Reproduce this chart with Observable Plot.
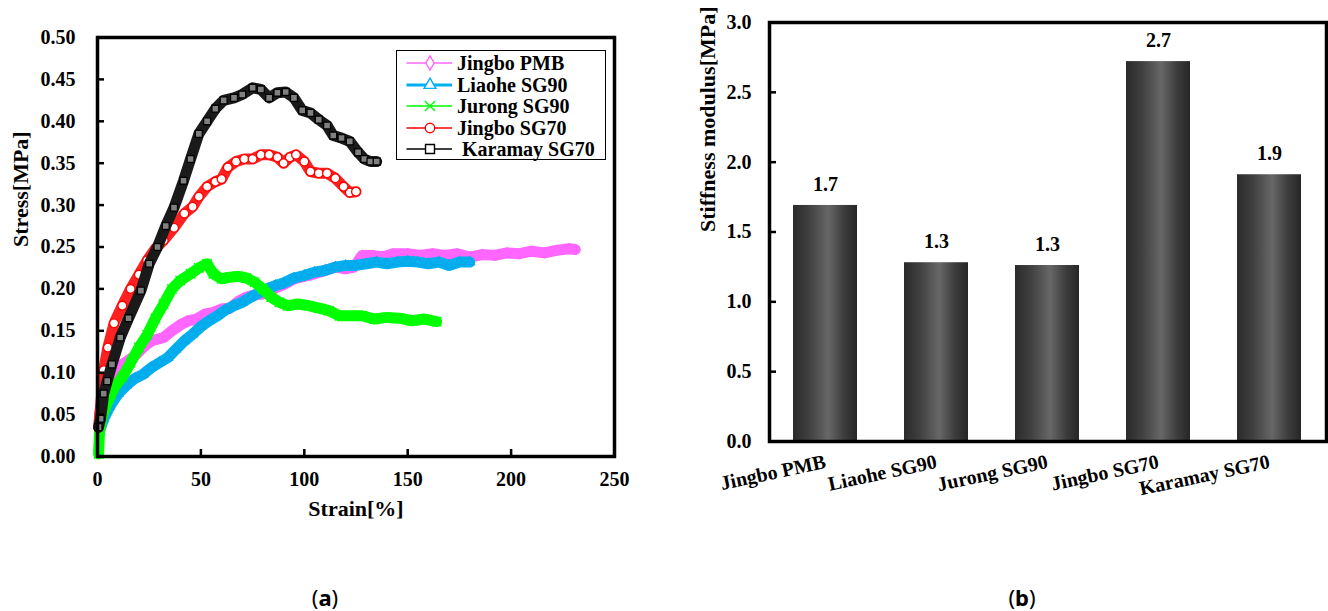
<!DOCTYPE html>
<html>
<head>
<meta charset="utf-8">
<script src="https://cdn.jsdelivr.net/npm/d3@7"></script>
<script src="https://cdn.jsdelivr.net/npm/@observablehq/plot@0.6"></script>
<style>
  html, body { margin: 0; padding: 0; background: #fff; }
  #wrap { position: relative; width: 1328px; height: 611px; background: #fff; overflow: hidden; }
  #chartA { position: absolute; left: 0; top: 0; }
  #chartB { position: absolute; left: 660px; top: 0; }
  #legend { position: absolute; left: 396px; top: 50px; width: 210px; height: 110px; box-sizing: border-box;
            border: 1.5px solid #000; background: #fff; }
  .lrow { position: absolute; left: 0; height: 22px; width: 100%; }
  .lrow svg { position: absolute; left: 0; top: 0; }
  .lrow span { position: absolute; left: 60px; top: 0; line-height: 22px; white-space: pre;
               font-family: "Liberation Serif", "Times New Roman", serif; font-weight: bold; font-size: 20px; color: #000; }
  .cap { position: absolute; top: 585px; transform: translateX(-50%); font-family: "Noto Sans", sans-serif;
         font-size: 22px; line-height: 24px; color: #000; }
  svg text { font-family: "Liberation Serif", "Times New Roman", serif; }
</style>
</head>
<body>
<div id="wrap">
  <div id="chartA"></div>
  <div id="chartB"></div>
  <div id="legend"></div>
  <div class="cap" style="left:325px">(<b>a</b>)</div>
  <div class="cap" style="left:1022px">(<b>b</b>)</div>
</div>
<script>
const FONT = '"Liberation Serif", "Times New Roman", serif';

// ---------- Panel (a): stress–strain curves ----------
const seriesNames = ["Jingbo PMB", "Liaohe SG90", "Jurong SG90", "Jingbo SG70", "Karamay SG70"];
const seriesColors = ["#ff66ff", "#00b0f0", "#00ff00", "#ff0000", "#000000"];

const pmbStrain = [1,3,6,10,14,18,22,26,32,36,40,44,48,52,56,60,64,68,72,76,80,85,90,95,100,105,110,115,120,124,128,133,138,143,150,156,162,168,174,180,186,192,198,204,210,216,222,228,231];
const pmbStress = [0.05,0.075,0.093,0.107,0.113,0.12,0.13,0.138,0.142,0.15,0.157,0.162,0.164,0.17,0.172,0.176,0.177,0.185,0.19,0.193,0.194,0.2,0.205,0.212,0.215,0.218,0.222,0.226,0.224,0.226,0.24,0.24,0.238,0.242,0.242,0.24,0.242,0.24,0.242,0.238,0.241,0.24,0.243,0.242,0.245,0.243,0.246,0.248,0.247];

const liaoheStrain = [1,3,6,10,14,18,22,26,30,34,38,42,46,50,54,58,62,66,70,74,78,82,86,90,95,100,105,110,115,120,125,130,135,140,145,150,155,160,165,170,175,180];
const liaoheStress = [0.03,0.045,0.06,0.075,0.085,0.093,0.098,0.106,0.112,0.118,0.128,0.138,0.146,0.155,0.162,0.168,0.175,0.18,0.184,0.19,0.195,0.2,0.204,0.207,0.213,0.216,0.22,0.222,0.226,0.228,0.228,0.23,0.232,0.23,0.232,0.233,0.232,0.23,0.232,0.228,0.232,0.232];

const jurongStrain = [0.5,1,2,4,8,12,16,20,24,28,32,36,40,45,49,53,56,60,64,68,72,76,80,84,88,92,97,102,107,112,117,122,128,134,140,146,152,158,164];
const jurongStress = [0.003,0.03,0.045,0.06,0.082,0.095,0.112,0.13,0.145,0.165,0.182,0.2,0.21,0.218,0.225,0.23,0.218,0.212,0.214,0.215,0.213,0.208,0.2,0.19,0.184,0.18,0.182,0.18,0.177,0.174,0.168,0.168,0.168,0.164,0.166,0.165,0.162,0.164,0.161];

const jingboStrain = [0.5,1.5,3,5,8,12,16,20,24,28,32,37,42,46,49,53,57,60,63,67,71,75,79,83,87,90,93,96,100,103,107,111,115,119,122,125];
const jingboStress = [0.035,0.06,0.103,0.13,0.159,0.18,0.2,0.217,0.234,0.248,0.258,0.273,0.29,0.298,0.31,0.322,0.328,0.331,0.345,0.352,0.355,0.355,0.36,0.36,0.357,0.35,0.357,0.36,0.352,0.34,0.338,0.338,0.332,0.322,0.315,0.316];

const karamayStrain = [0.5,1.5,3,4.7,7,11,15,21,25,29,33,37,41.6,45,49,53,57,61,66,70,75,79,83,87,91,95,99,103,107,111,114,118,122,126,129,132,135];
const karamayStress = [0.035,0.045,0.075,0.09,0.11,0.142,0.165,0.198,0.23,0.25,0.275,0.297,0.329,0.355,0.385,0.4,0.415,0.425,0.428,0.432,0.44,0.438,0.428,0.434,0.435,0.428,0.413,0.41,0.402,0.395,0.383,0.38,0.376,0.363,0.355,0.352,0.352];

const xTicksA = [0, 50, 100, 150, 200, 250];
const yTicksA = [0, 0.05, 0.1, 0.15, 0.2, 0.25, 0.3, 0.35, 0.4, 0.45, 0.5];

const strains = [pmbStrain, liaoheStrain, jurongStrain, jingboStrain, karamayStrain];
const stresses = [pmbStress, liaoheStress, jurongStress, jingboStress, karamayStress];
const symbols = ["diamond2", "triangle2", "times", "circle", "square2"];
const bandColor = ["#ff66ff", "#00b0f0", "#00ff00", "#ff2020", "#1a1a1a"];
const dotFill = ["#ff66ff", "#00b0f0", "#00ff00", "#ffffff", "#808080"];
const dotStroke = ["#ff66ff", "#0aa6e6", "#00ff00", "#ff0000", "#000000"];

const curveMarks = [];
seriesNames.forEach((name, i) => {
  const rows = strains[i].map((s, j) => ({strain: s, stress: stresses[i][j]}));
  curveMarks.push(Plot.line(rows, {x: "strain", y: "stress", stroke: bandColor[i], strokeWidth: 11,
    strokeLinejoin: "round", strokeLinecap: "round"}));
  curveMarks.push(Plot.dot(rows, {x: "strain", y: "stress", symbol: () => symbols[i], r: 4.4,
    fill: dotFill[i], stroke: dotStroke[i], strokeWidth: 1.3}));
});

const chartA = Plot.plot({
  width: 640, height: 540,
  marginLeft: 97, marginRight: 26, marginTop: 37, marginBottom: 84,
  x: {domain: [0, 250]},
  y: {domain: [0, 0.5]},
  style: {fontFamily: FONT, fontWeight: "bold", fontSize: "20px", color: "#000", background: "transparent", overflow: "visible"},
  marks: [
    ...curveMarks,
    Plot.frame({stroke: "#000", strokeWidth: 3.5}),
    Plot.axisX({ticks: xTicksA, tickSize: -7, strokeWidth: 2.5, tickFormat: () => "", label: null}),
    Plot.axisX({ticks: xTicksA, tickSize: 0, tickPadding: 15, tickFormat: d => String(d), label: null, fontFamily: FONT}),
    Plot.axisY({ticks: yTicksA, tickSize: -7, strokeWidth: 2.5, tickFormat: () => "", label: null}),
    Plot.axisY({ticks: yTicksA, tickSize: 0, tickPadding: 22, tickFormat: d => d.toFixed(2), label: null, fontFamily: FONT}),
    Plot.text(["Strain[%]"], {frameAnchor: "bottom", dy: 59, fontSize: 22, fontWeight: "bold", fontFamily: FONT}),
    Plot.text(["Stress[MPa]"], {frameAnchor: "left", dx: -77, rotate: -90, fontSize: 22, fontWeight: "bold", fontFamily: FONT})
  ]
});
document.getElementById("chartA").appendChild(chartA);

// Legend
const legend = document.getElementById("legend");
const legendSym = [d3.symbolDiamond, d3.symbolTriangle, d3.symbolX, d3.symbolCircle, d3.symbolSquare];
const legendSize = [60, 60, 70, 70, 80];
const legendLineW = [1.5, 3, 1.5, 1.5, 1.5];
seriesNames.forEach((name, i) => {
  const row = document.createElement("div");
  row.className = "lrow";
  row.style.top = (1 + i * 21.6) + "px";
  const s = d3.create("svg").attr("width", 58).attr("height", 22);
  s.append("line").attr("x1", 9.5).attr("x2", 55).attr("y1", 11).attr("y2", 11)
    .attr("stroke", seriesColors[i]).attr("stroke-width", legendLineW[i]);
  s.append("path").attr("d", d3.symbol(legendSym[i], legendSize[i])())
    .attr("transform", "translate(33,11)")
    .attr("fill", i === 2 ? "none" : "#fff").attr("stroke", seriesColors[i]).attr("stroke-width", 1.4);
  row.appendChild(s.node());
  const t = document.createElement("span");
  t.textContent = (i === 4 ? " " : "") + name;
  row.appendChild(t);
  legend.appendChild(row);
});

// ---------- Panel (b): stiffness modulus bars ----------
const asphalts = ["Jingbo PMB", "Liaohe SG90", "Jurong SG90", "Jingbo SG70", "Karamay SG70"];
const stiffness = [1.69, 1.28, 1.26, 2.72, 1.91];
const yTicksB = [0, 0.5, 1.0, 1.5, 2.0, 2.5, 3.0];
const bars = asphalts.map((a, i) => ({name: a, value: stiffness[i]}));

const chartB = Plot.plot({
  width: 668, height: 540,
  marginLeft: 109, marginRight: 2, marginTop: 22, marginBottom: 99,
  x: {domain: asphalts, type: "band", paddingInner: 0.42, paddingOuter: 0.21},
  y: {domain: [0, 3]},
  style: {fontFamily: FONT, fontWeight: "bold", fontSize: "20px", color: "#000", background: "transparent", overflow: "visible"},
  marks: [
    Plot.barY(bars, {x: "name", y: "value", fill: "url(#barGrad)"}),
    Plot.text(bars, {x: "name", y: "value", text: d => d.value.toFixed(1), dy: -21, fontSize: 20, fontWeight: "bold", fontFamily: FONT}),
    Plot.frame({stroke: "#000", strokeWidth: 3.5}),
    Plot.axisY({ticks: yTicksB, tickSize: -7, strokeWidth: 2.5, tickFormat: () => "", label: null}),
    Plot.axisY({ticks: yTicksB, tickSize: 0, tickPadding: 18, tickFormat: d => d.toFixed(1), label: null, fontFamily: FONT}),
    Plot.axisX({tickSize: 0, tickPadding: 20, tickRotate: -12, label: null, fontFamily: FONT}),
    Plot.text(["Stiffness modulus[MPa]"], {frameAnchor: "left", dx: -62, rotate: -90, fontSize: 22, fontWeight: "bold", fontFamily: FONT})
  ]
});
const svgB = d3.select(chartB.tagName.toLowerCase() === "svg" ? chartB : chartB.querySelector("svg"));
const defs = svgB.insert("defs", ":first-child");
const grad = defs.append("linearGradient").attr("id", "barGrad").attr("x1", 0).attr("x2", 1).attr("y1", 0).attr("y2", 0);
[[0, "#2a2a2a"], [0.25, "#404040"], [0.55, "#676767"], [0.8, "#3c3c3c"], [1, "#262626"]].forEach(([o, c]) =>
  grad.append("stop").attr("offset", o).attr("stop-color", c));
document.getElementById("chartB").appendChild(chartB);
</script>
</body>
</html>
